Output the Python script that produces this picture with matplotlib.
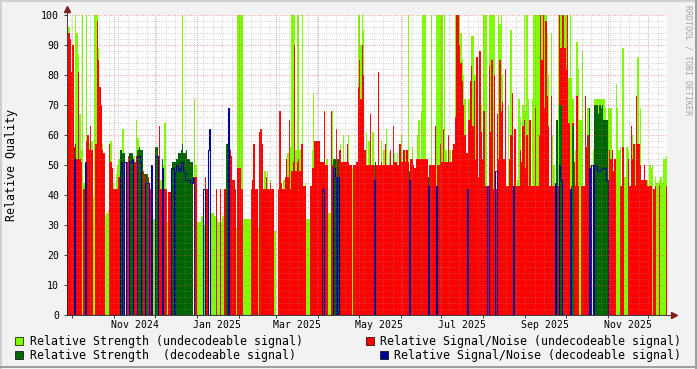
"""Render out.png: rrdtool-style relative signal quality chart (daily bars)."""

import matplotlib
matplotlib.use("Agg")
import matplotlib.dates as mdates
import matplotlib.pyplot as plt
import matplotlib.transforms as mtransforms
from matplotlib.patches import Rectangle
from matplotlib.ticker import MultipleLocator, NullFormatter
import numpy as np
import pandas as pd

W, H = 697, 369
START = "2024-09-27"

# Relative Strength (undecodeable signal), one value per day, 0 = no data
LG = [
    76, 96, 85, 81, 62, 56, 100, 94, 87, 67,      # 0
    55, 100, 44, 0, 100, 58, 57, 55, 58, 39,
    100, 100, 100, 89, 65, 57, 57, 50, 33, 34,
    35, 50, 58, 40, 44, 40, 47, 50, 52, 0,
    0, 62, 0, 0, 50, 45, 0, 0, 0, 53,
    0, 65, 59, 0, 0, 0, 0, 45, 0, 0,             # 50
    0, 0, 0, 32, 32, 0, 0, 0, 55, 45,
    0, 50, 64, 0, 31, 40, 0, 0, 0, 0,
    0, 0, 0, 0, 0, 100, 0, 0, 0, 0,
    0, 0, 0, 0, 72, 50, 31, 31, 31, 33,
    33, 30, 0, 0, 0, 0, 34, 34, 34, 33,          # 100
    32, 32, 31, 31, 31, 33, 33, 0, 0, 0,
    0, 50, 0, 32, 0, 29, 100, 100, 100, 100,
    32, 32, 32, 32, 32, 32, 0, 42, 0, 0,
    0, 29, 0, 0, 0, 0, 48, 0, 48, 0,
    45, 0, 0, 28, 28, 0, 0, 0, 0, 0,             # 150
    45, 0, 0, 54, 54, 56, 100, 100, 100, 55,
    100, 100, 55, 55, 100, 0, 44, 32, 32, 32,
    0, 55, 74, 52, 55, 0, 51, 0, 0, 0,
    0, 0, 52, 34, 34, 68, 68, 0, 0, 0,
    0, 0, 57, 0, 60, 0, 49, 0, 60, 0,            # 200
    0, 49, 0, 0, 0, 100, 100, 90, 100, 95,
    0, 61, 0, 58, 0, 0, 61, 0, 0, 0,
    58, 0, 58, 0, 55, 0, 62, 0, 54, 0,
    0, 0, 54, 0, 54, 0, 0, 60, 0, 0,
    55, 0, 100, 0, 0, 56, 0, 0, 0, 60,           # 250
    65, 0, 68, 100, 100, 100, 0, 0, 0, 100,
    0, 0, 0, 100, 100, 100, 100, 100, 0, 100,
    55, 0, 0, 55, 0, 0, 0, 100, 100, 100,
    100, 94, 85, 80, 72, 0, 0, 72, 48, 93,
    93, 80, 80, 60, 0, 81, 70, 41, 100, 100,     # 300
    100, 0, 100, 100, 100, 100, 100, 0, 55, 100,
    97, 100, 80, 0, 60, 0, 70, 0, 95, 62,
    0, 50, 0, 45, 72, 66, 0, 70, 100, 68,
    100, 72, 62, 0, 72, 100, 100, 100, 100, 100,
    100, 100, 100, 100, 100, 94, 80, 0, 94, 60,  # 350
    50, 0, 0, 100, 100, 100, 100, 100, 100, 100,
    100, 79, 100, 79, 72, 0, 55, 91, 82, 65,
    65, 88, 0, 60, 0, 69, 0, 50, 0, 55,
    72, 72, 72, 72, 72, 72, 72, 72, 69, 0,
    69, 69, 69, 50, 42, 0, 77, 69, 55, 56,       # 400
    0, 89, 46, 46, 56, 55, 0, 0, 60, 0,
    57, 60, 86, 0, 69, 45, 0, 50, 0, 45,
    0, 50, 49, 50, 0, 46, 44, 44, 45, 46,
    44, 52, 52, 53,
]

# Relative Signal/Noise (undecodeable signal)
RED = [
    46, 94, 92, 81, 90, 0, 57, 52, 81, 52,       # 0
    51, 0, 42, 42, 58, 60, 55, 63, 55, 0,
    0, 57, 98, 85, 76, 70, 55, 54, 0, 0,
    0, 57, 51, 49, 42, 42, 42, 42, 46, 0,
    0, 0, 0, 0, 51, 53, 0, 0, 0, 51,
    51, 53, 0, 0, 0, 48, 48, 47, 0, 0,           # 50
    46, 42, 0, 0, 0, 0, 0, 0, 63, 42,
    0, 42, 42, 42, 0, 41, 41, 0, 0, 0,
    0, 0, 0, 0, 0, 0, 0, 0, 0, 0,
    0, 0, 0, 0, 46, 46, 0, 0, 0, 0,
    0, 0, 46, 42, 0, 0, 0, 0, 0, 0,              # 100
    42, 0, 0, 42, 0, 0, 42, 42, 0, 0,
    55, 53, 45, 45, 42, 0, 49, 49, 49, 42,
    0, 0, 0, 0, 0, 0, 42, 45, 57, 42,
    42, 0, 61, 62, 57, 42, 42, 46, 42, 42,
    44, 42, 42, 0, 0, 0, 42, 68, 44, 42,         # 150
    42, 46, 52, 46, 65, 42, 48, 51, 90, 48,
    51, 52, 48, 57, 57, 43, 43, 0, 0, 0,
    43, 49, 49, 58, 58, 58, 58, 51, 51, 51,
    68, 50, 50, 0, 0, 68, 50, 0, 0, 62,
    0, 55, 55, 51, 51, 51, 51, 57, 51, 50,       # 200
    50, 0, 50, 50, 51, 76, 85, 72, 90, 80,
    55, 50, 50, 50, 67, 50, 50, 50, 50, 50,
    81, 50, 51, 50, 50, 57, 50, 50, 50, 55,
    50, 63, 51, 51, 50, 50, 57, 51, 51, 55,
    51, 55, 51, 0, 52, 52, 50, 49, 52, 52,       # 250
    52, 52, 52, 52, 52, 52, 52, 0, 50, 50,
    50, 50, 63, 0, 50, 50, 57, 51, 62, 51,
    51, 51, 60, 51, 51, 55, 57, 66, 100, 100,
    90, 84, 78, 70, 60, 54, 54, 65, 78, 83,
    63, 78, 52, 86, 46, 88, 61, 52, 68, 43,      # 300
    43, 43, 83, 61, 85, 42, 80, 42, 67, 52,
    85, 68, 71, 52, 82, 43, 43, 52, 60, 74,
    43, 62, 43, 43, 43, 55, 51, 63, 65, 49,
    60, 43, 65, 43, 43, 43, 69, 43, 43, 60,
    100, 85, 100, 69, 98, 73, 63, 43, 73, 43,    # 350
    43, 43, 43, 43, 100, 89, 100, 100, 89, 82,
    100, 64, 0, 43, 64, 51, 43, 73, 43, 0,
    43, 43, 43, 73, 56, 60, 43, 0, 0, 43,
    0, 0, 0, 0, 0, 0, 0, 0, 0, 0,
    43, 55, 52, 55, 48, 52, 0, 0, 0, 43,         # 400
    43, 56, 0, 0, 0, 52, 43, 63, 52, 57,
    43, 73, 57, 57, 50, 45, 45, 50, 45, 43,
    43, 43, 43, 0, 42, 43, 0, 0, 43, 0,
    0, 0, 0, 43,
]

# Relative Strength (decodeable signal): day index -> value
DG_DAY = [5, 39, 40, 41, 42, 46, 47, 48, 52, 53, 54, 55, 58, 59, 65, 66, 67, 70,
          78, 79, 80, 81, 82, 83, 84, 85, 86, 87, 88, 89, 90, 91, 92, 118, 119,
          197, 198, 200, 228, 253, 267, 362, 364, 365, 374, 386,
          390, 391, 392, 393, 394, 395, 396, 397, 398, 399]
DG_VAL = [56, 55, 55, 54, 54, 54, 54, 54, 55, 56, 55, 55, 47, 47, 56, 56, 52, 52,
          51, 51, 51, 52, 54, 54, 55, 57, 54, 54, 55, 52, 52, 51, 51, 57, 57,
          52, 52, 52, 51, 48, 46, 65, 70, 70, 63, 69,
          70, 70, 70, 67, 70, 69, 70, 65, 65, 65]

# Relative Signal/Noise (decodeable signal): day index -> value
BLUE_DAY = [5, 13, 39, 40, 42, 43, 46, 47, 48, 52, 53, 54, 58, 59, 60, 62, 65, 66,
            70, 77, 78, 80, 81, 82, 83, 84, 85, 86, 87, 88, 89, 90, 91, 92, 93,
            101, 104, 105, 119, 189, 197, 198, 200, 227, 253, 267, 273, 296, 311,
            317, 330, 361, 364, 365, 372, 386, 388,
            390, 391, 392, 393, 394, 395, 396, 397, 398, 399]
BLUE_VAL = [52, 51, 48, 51, 51, 51, 51, 51, 52, 53, 53, 51, 44, 44, 44, 50, 53, 53,
            49, 49, 49, 48, 50, 49, 48, 51, 51, 48, 45, 45, 45, 45, 44, 44, 46,
            42, 55, 62, 69, 42, 49, 46, 46, 45, 45, 43, 43, 42, 43,
            48, 43, 44, 50, 45, 42, 49, 50,
            50, 50, 48, 48, 48, 49, 49, 49, 49, 45]

LABEL_MONTHS = ["2024-11", "2025-01", "2025-03", "2025-05", "2025-07", "2025-09", "2025-11"]

LEGEND = [
    ("Relative Strength (undecodeable signal)", "#80FF00", 15, 30, 341),
    ("Relative Signal/Noise (undecodeable signal)", "#FF0000", 366, 380, 341),
    ("Relative Strength  (decodeable signal)", "#006400", 15, 30, 355),
    ("Relative Signal/Noise (decodeable signal)", "#000094", 380, 394, 355),
]

C_LG, C_RED, C_DG, C_BLUE = "#80FF00", "#FF0000", "#006400", "#000094"
MONO = "DejaVu Sans Mono"


def fx(px):
    return px / W


def fy(py):
    return 1 - py / H


def main():
    n = len(LG)
    days = pd.date_range(START, periods=n, freq="D")
    x = mdates.date2num(days)
    dg = np.zeros(n)
    dg[DG_DAY] = DG_VAL
    blue = np.zeros(n)
    blue[BLUE_DAY] = BLUE_VAL

    fig = plt.figure(figsize=(W / 100, H / 100), dpi=100, facecolor="#F2F2F2")
    ax = fig.add_axes([fx(67), fy(315), fx(667) - fx(67), fy(15) - fy(315)])
    ax.set_facecolor("white")

    kw = dict(width=1.0, align="edge", linewidth=0, antialiased=False)
    ax.bar(x, LG, color=C_LG, zorder=1.0, **kw)
    ax.bar(x, RED[:n], color=C_RED, zorder=1.1, **kw)
    ax.bar(x, dg, color=C_DG, zorder=1.2, **kw)
    ax.stairs(blue, np.append(x, x[-1] + 1), baseline=0, color=C_BLUE,
              linewidth=0.8, zorder=1.3)

    ax.set_xlim(x[0], x[-1] + 1)
    ax.set_ylim(0, 100)

    ax.yaxis.set_major_locator(MultipleLocator(10))
    ax.yaxis.set_minor_locator(MultipleLocator(2))
    ax.xaxis.set_major_locator(mdates.MonthLocator())
    ax.xaxis.set_minor_locator(mdates.WeekdayLocator(byweekday=mdates.MO))
    ax.xaxis.set_major_formatter(NullFormatter())
    ax.set_axisbelow(False)
    ax.grid(which="minor", color="#8F8F8F", alpha=0.65, linewidth=0.55, linestyle=(0, (1, 2)))
    ax.grid(which="major", color="#DE4F4F", alpha=0.85, linewidth=0.55, linestyle=(0, (1, 2)))

    ax.tick_params(axis="x", which="major", length=2.2, width=0.6, color="#1F1F1F")
    ax.tick_params(axis="both", which="minor", length=0)
    ax.tick_params(axis="y", which="major", length=2.2, width=0.6, color="#1F1F1F",
                   pad=3.5, labelsize=7.1)
    for lab in ax.get_yticklabels():
        lab.set_family(MONO)
    for s in ax.spines.values():
        s.set_visible(False)

    # axes with arrows, as rrdtool draws them
    ax.plot([0, 0], [0, 1 + 5 / 300], transform=ax.transAxes, color="#1F1F1F",
            lw=0.6, clip_on=False, zorder=3)
    ax.plot([0, 1 + 5 / 600], [0, 0], transform=ax.transAxes, color="#1F1F1F",
            lw=0.6, clip_on=False, zorder=3)
    ax.plot([0], [1 + 6 / 300], transform=ax.transAxes, marker="^", ms=4.5,
            color="#801F1F", clip_on=False, zorder=4)
    ax.plot([1 + 7 / 600], [0], transform=ax.transAxes, marker=">", ms=4.5,
            color="#801F1F", clip_on=False, zorder=4)

    # month labels centred half a month after the month start
    trans = mtransforms.blended_transform_factory(ax.transData, ax.transAxes)
    for m in LABEL_MONTHS:
        t = pd.Timestamp(m + "-01") + pd.Timedelta(days=15)
        ax.text(mdates.date2num(t), -9.5 / 300, t.strftime("%b %Y"), transform=trans,
                ha="center", va="center", family=MONO, fontsize=7.1)

    fig.text(fx(12), fy(165), "Relative Quality", rotation=90, ha="center",
             va="center", family=MONO, fontsize=8.4)
    fig.text(fx(688), fy(5), "RRDTOOL / TOBI OETIKER", rotation=270, ha="center",
             va="top", family=MONO, fontsize=6, color="#A5A5A5")

    for label, color, sx, tx, ty in LEGEND:
        fig.add_artist(Rectangle((fx(sx), fy(ty + 4)), 8 / W, 8 / H,
                                 transform=fig.transFigure, facecolor=color,
                                 edgecolor="black", linewidth=0.5))
        fig.text(fx(tx), fy(ty), label, ha="left", va="center", family=MONO,
                 fontsize=8.35)

    # rrdtool frame shading
    fig.add_artist(Rectangle((0, fy(2)), 1, 2 / H, transform=fig.transFigure,
                             facecolor="#CFCFCF", linewidth=0))
    fig.add_artist(Rectangle((0, 0), 2 / W, 1, transform=fig.transFigure,
                             facecolor="#CFCFCF", linewidth=0))
    fig.add_artist(Rectangle((0, fy(368)), 1, 2 / H, transform=fig.transFigure,
                             facecolor="#9E9E9E", linewidth=0))
    fig.add_artist(Rectangle((fx(695), 0), 2 / W, 1, transform=fig.transFigure,
                             facecolor="#9E9E9E", linewidth=0))

    fig.savefig("out.png", dpi=100, facecolor=fig.get_facecolor())


if __name__ == "__main__":
    main()
